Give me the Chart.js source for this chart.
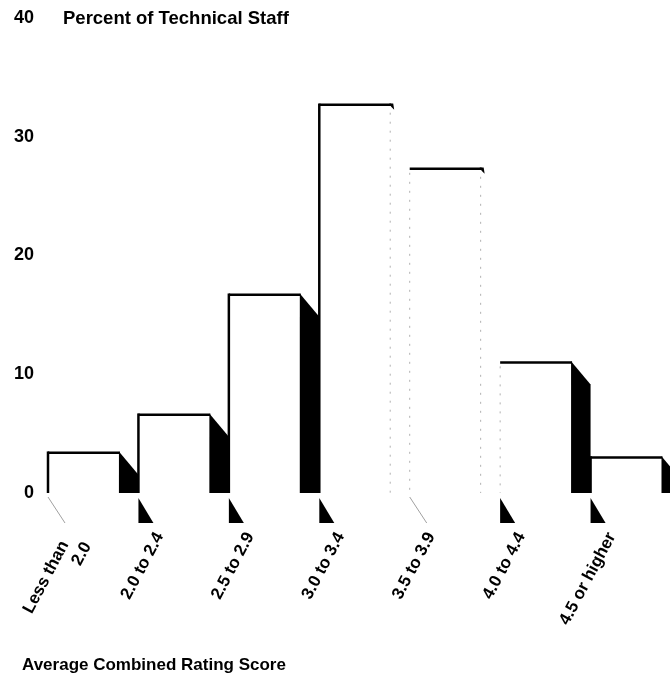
<!DOCTYPE html>
<html>
<head>
<meta charset="utf-8">
<script src="https://cdn.jsdelivr.net/npm/chart.js@4.4.0/dist/chart.umd.min.js"></script>
<style>
  html, body { margin:0; padding:0; background:#fff; overflow:hidden; }
  #wrap { position:relative; width:670px; height:682px; overflow:hidden; }
  #wrap canvas { position:absolute; left:0; top:0; }
  .lbl { position:absolute; font-family:"Liberation Sans", Arial, sans-serif; font-weight:bold; color:#000; white-space:nowrap; line-height:20px; }
</style>
</head>
<body>
<div id="wrap">
  <canvas id="staffChart" width="681" height="682"></canvas>
  <div class="lbl" style="left:63px; top:8px; font-size:18.5px;">Percent of Technical Staff</div>
  <div class="lbl" style="left:22px; top:655px; font-size:17px;">Average Combined Rating Score</div>
</div>
<script>
// Data
const ratingBands = [['Less than  ', '2.0'], '2.0 to 2.4', '2.5 to 2.9', '3.0 to 3.4', '3.5 to 3.9', '4.0 to 4.4', '4.5 or higher'];
const percentStaff = [3.4, 6.6, 16.7, 32.7, 27.3, 11.0, 3.0];
const yTicks = [0, 10, 20, 30, 40];

// The scan lost some of the dark shading: side faces of the two tallest bars
// and two of the floor shadows only show as faint lines
const fadedSide  = [false, false, false, true, true, false, false];
const fadedFloor = [true, false, false, false, true, false, false];
const DEPTH = 18.5, DROP = 22;
const FONT = '"Liberation Sans", Arial, sans-serif';

// Draws each bar as a white front with a black side face and a floor shadow
const box3d = {
  id: 'box3d',
  afterDatasetsDraw(chart) {
    const { ctx } = chart;
    const bars = chart.getDatasetMeta(0).data;
    ctx.save();
    bars.forEach((b, i) => {
      const L = b.x - b.width / 2, R = b.x + b.width / 2;
      const fr = R - DEPTH, top = b.y, base = b.base;
      const leftSolid = i === 0 || !fadedSide[i - 1];

      ctx.fillStyle = '#fff';
      ctx.fillRect(L, top, fr - L, base - top);

      // front outline (top + left)
      ctx.setLineDash([]);
      ctx.strokeStyle = '#000'; ctx.lineWidth = 2.5;
      ctx.beginPath(); ctx.moveTo(L, top); ctx.lineTo(fr, top); ctx.stroke();
      if (leftSolid) {
        ctx.beginPath(); ctx.moveTo(L, top - 1.2); ctx.lineTo(L, base); ctx.stroke();
      } else {
        ctx.strokeStyle = '#b0b0b0'; ctx.lineWidth = 1; ctx.setLineDash([2, 7]);
        ctx.beginPath(); ctx.moveTo(L, top + 4); ctx.lineTo(L, base); ctx.stroke();
        ctx.setLineDash([]);
      }

      // side face
      ctx.fillStyle = '#000';
      if (!fadedSide[i]) {
        ctx.beginPath();
        ctx.moveTo(fr - 1, top - 1.2);
        ctx.lineTo(R, top + DROP);
        ctx.lineTo(R, base);
        ctx.lineTo(fr - 1, base);
        ctx.closePath(); ctx.fill();
      } else {
        ctx.beginPath();
        ctx.moveTo(fr - 2, top - 1.2); ctx.lineTo(fr + 2, top - 1.2); ctx.lineTo(fr + 3, top + 5); ctx.lineTo(fr, top + 2);
        ctx.closePath(); ctx.fill();
        ctx.strokeStyle = '#b0b0b0'; ctx.lineWidth = 1; ctx.setLineDash([2, 7]);
        ctx.beginPath(); ctx.moveTo(fr - 1, top + 8); ctx.lineTo(fr - 1, base); ctx.stroke();
        ctx.setLineDash([]);
      }

      // floor shadow below the axis
      if (!fadedFloor[i]) {
        ctx.fillStyle = '#000';
        ctx.beginPath();
        ctx.moveTo(L, base + 5); ctx.lineTo(L, base + 30); ctx.lineTo(L + 15, base + 30);
        ctx.closePath(); ctx.fill();
      } else {
        ctx.strokeStyle = '#a0a0a0'; ctx.lineWidth = 1;
        ctx.beginPath(); ctx.moveTo(L, base + 4); ctx.lineTo(L + 17, base + 30); ctx.stroke();
      }
    });
    ctx.restore();
  }
};

new Chart(document.getElementById('staffChart'), {
  type: 'bar',
  data: {
    labels: ratingBands,
    datasets: [{
      data: percentStaff,
      backgroundColor: 'rgba(0,0,0,0)',
      borderWidth: 0,
      barPercentage: 1,
      categoryPercentage: 1
    }]
  },
  options: {
    responsive: false,
    animation: false,
    devicePixelRatio: 1,
    layout: { padding: { top: 18, right: 0, bottom: 0, left: 0 } },
    plugins: { legend: { display: false }, tooltip: { enabled: false } },
    scales: {
      x: {
        offset: true,
        grid: { display: false, drawTicks: false },
        border: { display: false },
        ticks: {
          autoSkip: false, maxRotation: 62, minRotation: 62,
          color: '#000', padding: 36, labelOffset: -24,
          font: { family: FONT, size: 17, weight: 'bold' }
        },
        afterFit: s => { s.height = 189; s.paddingLeft = 0; s.paddingRight = 0; }
      },
      y: {
        min: 0, max: 40,
        grid: { display: false, drawTicks: false },
        border: { display: false },
        ticks: { color: '#000', padding: 14, font: { family: FONT, size: 18, weight: 'bold' } },
        afterBuildTicks: s => { s.ticks = yTicks.map(v => ({ value: v })); },
        afterFit: s => { s.width = 48; s.paddingTop = 0; s.paddingBottom = 0; }
      }
    }
  },
  plugins: [box3d]
});
</script>
</body>
</html>
